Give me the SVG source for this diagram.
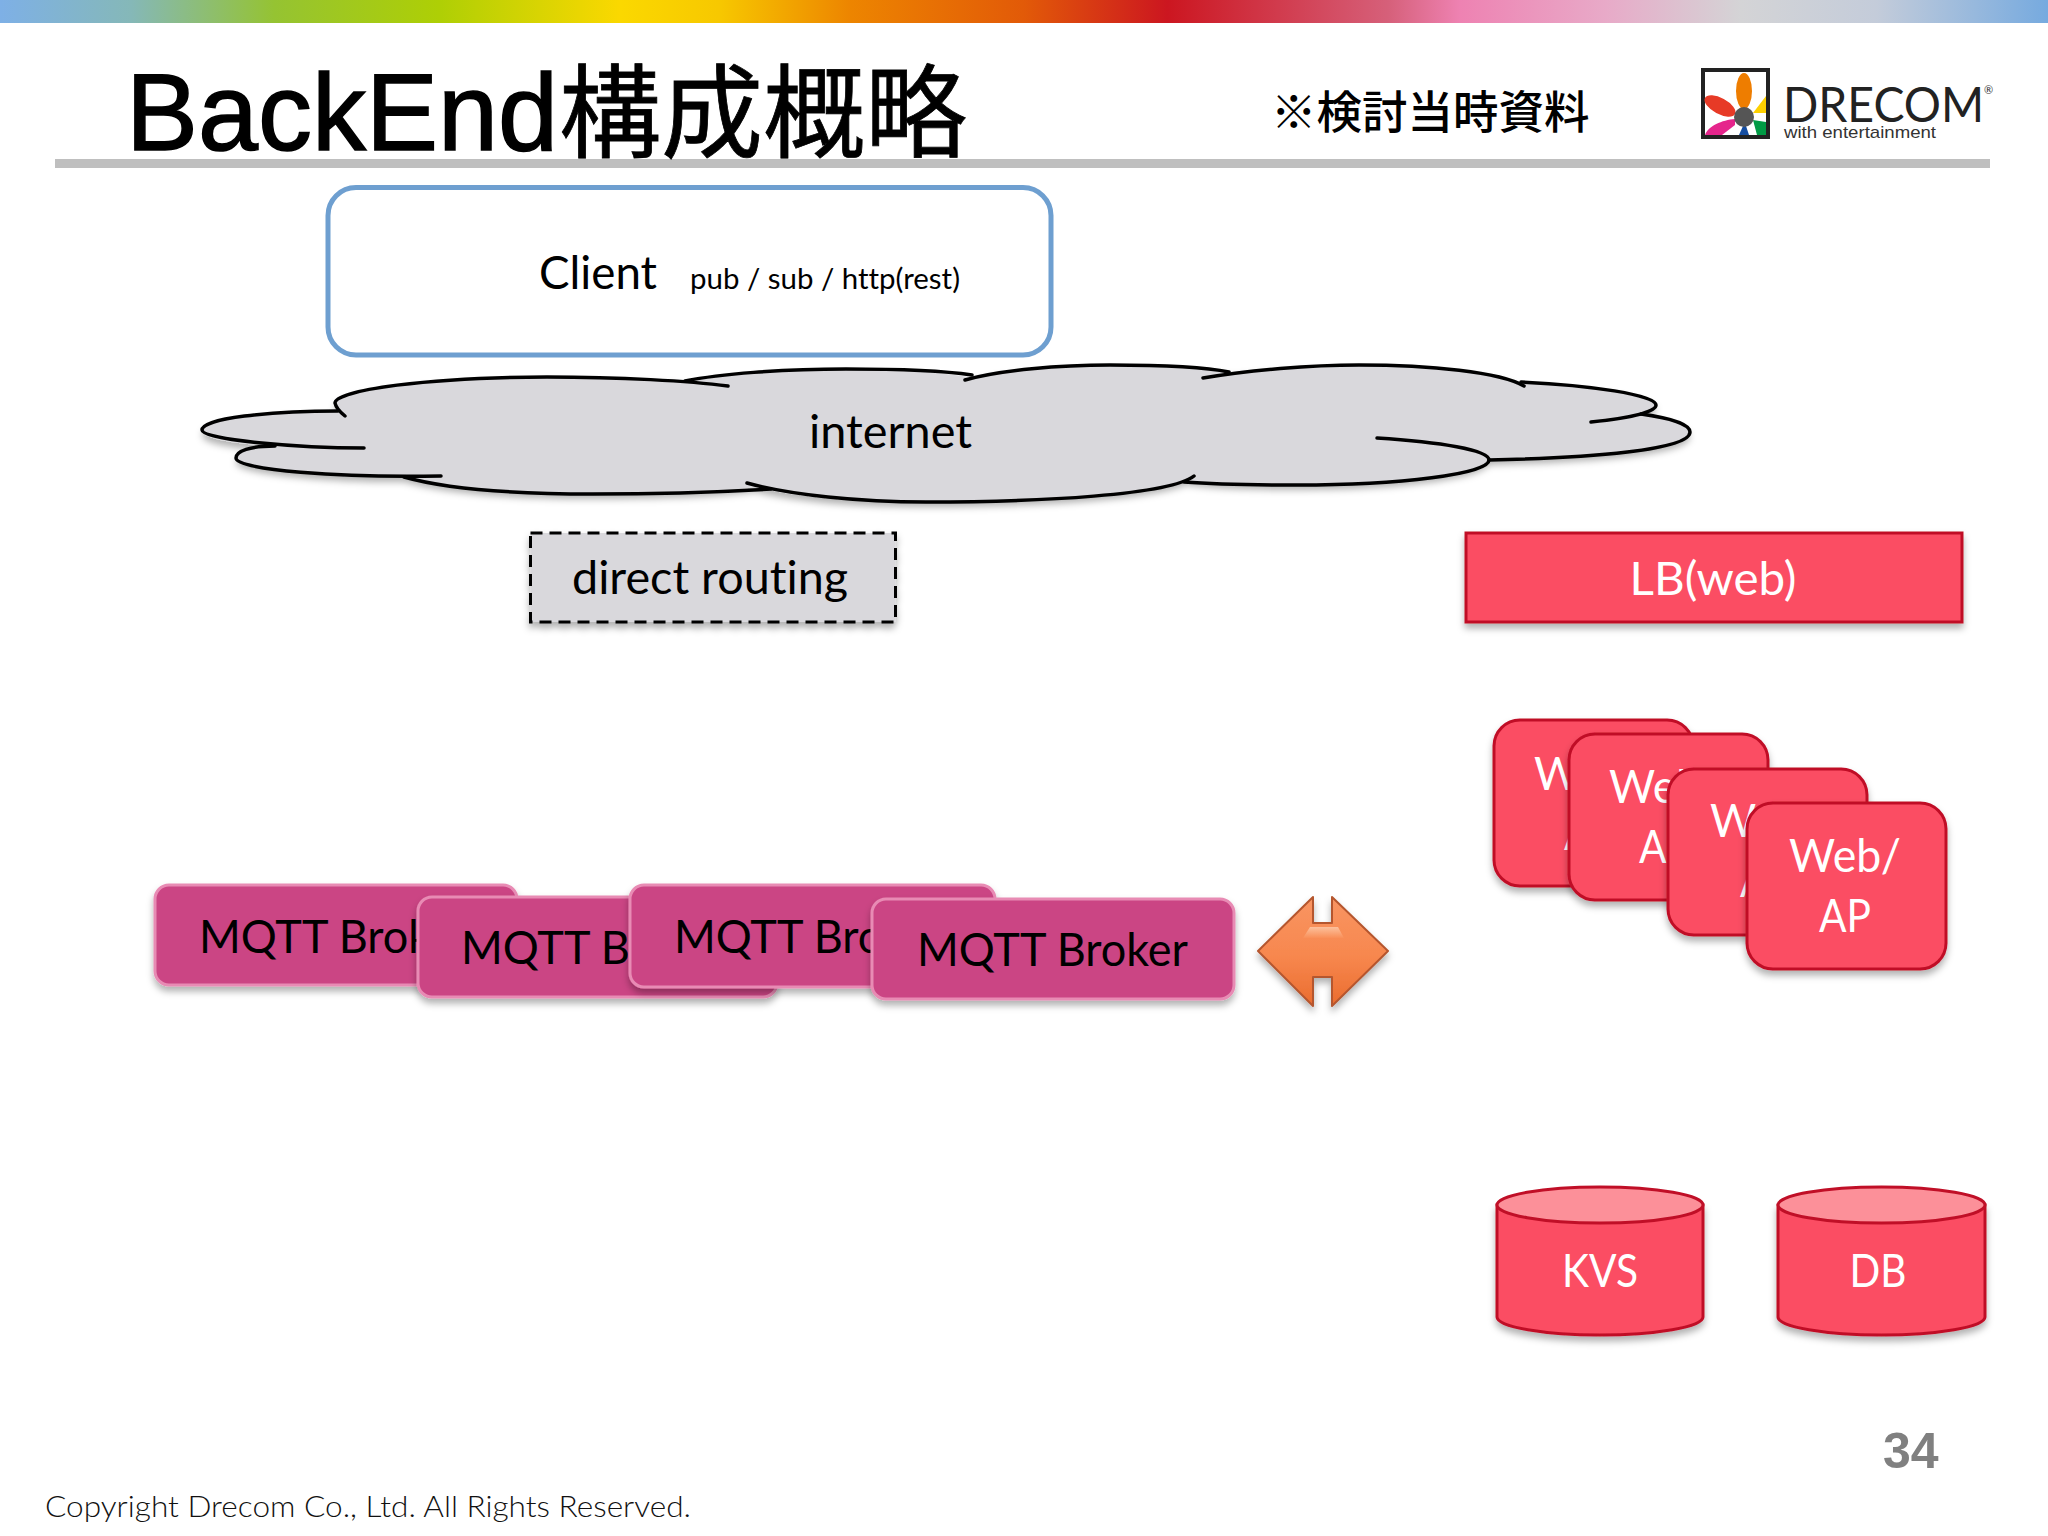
<svg xmlns="http://www.w3.org/2000/svg" width="2048" height="1536" viewBox="0 0 2048 1536">
<defs>
<linearGradient id="bar" gradientUnits="userSpaceOnUse" x1="0" y1="0" x2="2048" y2="0">
<stop offset="0" stop-color="#7eb0e6"/><stop offset="0.064" stop-color="#85b8b8"/><stop offset="0.134" stop-color="#95c332"/><stop offset="0.214" stop-color="#aecf05"/><stop offset="0.303" stop-color="#fbd800"/><stop offset="0.351" stop-color="#f7c800"/><stop offset="0.415" stop-color="#ed8500"/><stop offset="0.5" stop-color="#e25a08"/><stop offset="0.57" stop-color="#cc1620"/><stop offset="0.678" stop-color="#d6607a"/><stop offset="0.713" stop-color="#ee82b2"/><stop offset="0.784" stop-color="#e8aac8"/><stop offset="0.85" stop-color="#d4d4d6"/><stop offset="0.916" stop-color="#c4ccda"/><stop offset="1" stop-color="#76aadf"/>
</linearGradient>
<linearGradient id="arrowBody" x1="0" y1="0" x2="0" y2="1"><stop offset="0" stop-color="#f99562"/><stop offset="0.55" stop-color="#f7874e"/><stop offset="1" stop-color="#ea6c2e"/></linearGradient>
<linearGradient id="arrowHi" x1="0" y1="0" x2="0" y2="1"><stop offset="0" stop-color="#fcc09c"/><stop offset="1" stop-color="#f98f58"/></linearGradient>
<filter id="sh" x="-10%" y="-20%" width="120%" height="150%"><feDropShadow dx="0" dy="5" stdDeviation="3.5" flood-color="#000" flood-opacity="0.3"/></filter>
</defs>
<style>
text{font-family:"Lato","Liberation Sans","Noto Sans CJK JP",sans-serif;font-variant-ligatures:none}
.l{font-size:47px}
.w{fill:#fff;text-anchor:middle}
.red{fill:#fb4d63;stroke:#c00f27;stroke-width:3}
.mq{fill:#cb4584;stroke:#e88bb4;stroke-width:3}
.cl{fill:none;stroke:#000;stroke-width:3.500;stroke-linecap:round}
</style>
<rect width="2048" height="1536" fill="#fff"/>
<rect width="2048" height="23" fill="url(#bar)"/>
<rect x="55" y="159" width="1935" height="9" fill="#bfbfbf"/>
<text id="title" y="150" fill="#000" style="font-family:'Liberation Sans','Noto Sans CJK JP',sans-serif"><tspan x="126" font-size="110" stroke="#000" stroke-width="1.5" textLength="432" lengthAdjust="spacingAndGlyphs">BackEnd</tspan><tspan x="559" font-size="102" stroke="#000" stroke-width="0.8" style="font-family:'Noto Sans CJK JP',sans-serif">構成概略</tspan></text>
<text id="note" x="1271" y="129" font-size="45.500" font-weight="500" style="font-family:'Noto Sans CJK JP',sans-serif">※検討当時資料</text>
<g id="logo">
<rect x="1703" y="70" width="65" height="67" fill="#fff" stroke="#222" stroke-width="4"/>
<ellipse cx="1744" cy="91" rx="8" ry="18" fill="#ee7d00"/>
<ellipse cx="1720" cy="106" rx="8" ry="17" fill="#e73a26" transform="rotate(-62 1720 106)"/>
<path d="M1705 135C1708 126 1722 120 1735 119L1735 125L1722 135Z" fill="#e5258c"/>
<path d="M1766 96V113H1753Z" fill="#fdd000"/>
<path d="M1753 120L1766 122V135H1757Z" fill="#009a44"/>
<path d="M1739 135L1743 126H1746L1749 135Z" fill="#154da0"/>
<ellipse cx="1744" cy="117" rx="10" ry="10" fill="#555"/>
<text x="1783" y="122" font-size="48" fill="#222" textLength="201" lengthAdjust="spacingAndGlyphs">DRECOM</text>
<text x="1784" y="138" font-size="17" fill="#333" textLength="152" lengthAdjust="spacingAndGlyphs" style="font-family:'Liberation Sans',sans-serif">with entertainment</text>
<text x="1984" y="94" font-size="11" fill="#333">®</text>
</g>
<g id="client">
<rect x="328" y="187.500" width="723" height="167.500" rx="28" fill="#fff" stroke="#6e9fd0" stroke-width="5"/>
<text x="539" y="289" font-size="47" textLength="118" lengthAdjust="spacingAndGlyphs">Client</text>
<text x="690" y="289" font-size="29" textLength="270" lengthAdjust="spacingAndGlyphs">pub / sub / http(rest)</text>
</g>
<g id="internet">
<path filter="url(#sh)" fill="#d9d8dc" d="M338 411C270 411 202 418 202 430C202 440 240 444 275 446C250 446 236 451 236 458C236 470 340 478 404 477C450 490 520 494 593 494C660 494 720 492 755 487C800 498 860 502 926 502C1040 502 1150 495 1187 480C1210 484 1250 485 1297 485C1400 485 1480 474 1489 460C1590 458 1690 450 1690 432C1690 424 1670 418 1645 413C1654 410 1656 408 1656 405C1656 395 1590 385 1522 383C1495 372 1430 365 1359 365C1310 365 1260 368 1229 372C1200 367 1160 365 1110 365C1060 365 1000 370 969 377C930 371 890 369 846 369C780 369 725 374 695 381C660 378 610 377 547 377C430 377 335 390 335 403C335 406 336 409 338 411Z"/>
<g>
<path class="cl" d="M338 411C270 411 202 418 202 430C202 440 300 448 364 448"/>
<path class="cl" d="M345 416C340 412 336 408 335 403C335 390 430 377 547 377C620 377 690 381 728 386"/>
<path class="cl" d="M685 381C720 374 780 369 846 369C900 369 945 371 972 375"/>
<path class="cl" d="M965 380C1000 370 1060 365 1110 365C1160 365 1205 367 1229 372"/>
<path class="cl" d="M1203 378C1250 370 1310 365 1359 365C1430 365 1500 372 1524 386"/>
<path class="cl" d="M1521 382C1590 385 1656 395 1656 405C1656 412 1630 418 1591 422"/>
<path class="cl" d="M1641 414C1670 418 1690 424 1690 432C1690 450 1590 458 1489 460"/>
<path class="cl" d="M1377 438C1440 442 1489 450 1489 460C1489 474 1400 485 1297 485C1250 485 1210 484 1184 482"/>
<path class="cl" d="M1194 476C1170 495 1040 502 926 502C860 502 790 495 747 483"/>
<path class="cl" d="M771 489C720 492 660 494 593 494C520 494 450 490 404 477"/>
<path class="cl" d="M441 476C340 478 236 470 236 458C236 451 250 446 275 446"/>
</g>
<text x="809" y="448" font-size="47" textLength="163" lengthAdjust="spacingAndGlyphs">internet</text>
</g>
<g id="direct-routing">
<rect x="530.500" y="533" width="365" height="89" fill="#d9d8dc" stroke="#000" stroke-width="3" stroke-dasharray="12 7" filter="url(#sh)"/>
<text x="572" y="594" font-size="47" textLength="276" lengthAdjust="spacingAndGlyphs">direct routing</text>
</g>
<g id="lb-web">
<rect class="red" x="1466" y="533" width="496" height="89" filter="url(#sh)"/>
<text class="w l" x="1713" y="595" textLength="167" lengthAdjust="spacingAndGlyphs">LB(web)</text>
</g>
<g id="web1"><rect class="red" x="1494" y="720" width="199" height="166" rx="26" filter="url(#sh)"/><text class="w l" x="1590" y="790" textLength="112" lengthAdjust="spacingAndGlyphs">Web/</text><text class="w l" x="1590" y="850" textLength="52" lengthAdjust="spacingAndGlyphs">AP</text></g>
<g id="web2"><rect class="red" x="1569" y="734" width="199" height="166" rx="26" filter="url(#sh)"/><text class="w l" x="1665" y="803" textLength="112" lengthAdjust="spacingAndGlyphs">Web/</text><text class="w l" x="1665" y="863" textLength="52" lengthAdjust="spacingAndGlyphs">AP</text></g>
<g id="web3"><rect class="red" x="1668" y="769" width="199" height="166" rx="26" filter="url(#sh)"/><text class="w l" x="1766" y="837" textLength="112" lengthAdjust="spacingAndGlyphs">Web/</text><text class="w l" x="1766" y="897" textLength="52" lengthAdjust="spacingAndGlyphs">AP</text></g>
<g id="web4"><rect class="red" x="1747" y="803" width="199" height="166" rx="26" filter="url(#sh)"/><text class="w l" x="1845" y="872" textLength="112" lengthAdjust="spacingAndGlyphs">Web/</text><text class="w l" x="1845" y="932" textLength="52" lengthAdjust="spacingAndGlyphs">AP</text></g>
<g id="mqtt1"><rect class="mq" x="155" y="885" width="362" height="100" rx="14" filter="url(#sh)"/><text class="l" x="199" y="953" textLength="271" lengthAdjust="spacingAndGlyphs">MQTT Broker</text></g>
<g id="mqtt2"><rect class="mq" x="418" y="897" width="359" height="100" rx="14" filter="url(#sh)"/><text class="l" x="461" y="964" textLength="271" lengthAdjust="spacingAndGlyphs">MQTT Broker</text></g>
<g id="mqtt3"><rect class="mq" x="630" y="885" width="365" height="102" rx="14" filter="url(#sh)"/><text class="l" x="674" y="953" textLength="271" lengthAdjust="spacingAndGlyphs">MQTT Broker</text></g>
<g id="mqtt4"><rect class="mq" x="872" y="899" width="362" height="100" rx="14" filter="url(#sh)"/><text class="l" x="917" y="966" textLength="271" lengthAdjust="spacingAndGlyphs">MQTT Broker</text></g>
<g id="connectors">
<path filter="url(#sh)" fill="url(#arrowBody)" stroke="#b5562e" stroke-width="2" stroke-linejoin="round" d="M1313 897V923H1332V897L1388 951L1332 1006V977H1313V1006L1258 951Z"/>
<path fill="url(#arrowHi)" d="M1310 927H1338L1344 938H1303Z"/>
</g>
<g id="kvs">
<path class="red" d="M1497 1205V1317C1497 1327 1545 1335 1600 1335C1655 1335 1703 1327 1703 1317V1205Z" filter="url(#sh)"/>
<ellipse cx="1600" cy="1205" rx="103" ry="18" fill="#fc9099" stroke="#c00f27" stroke-width="3"/>
<text class="w l" x="1600" y="1287" textLength="76" lengthAdjust="spacingAndGlyphs">KVS</text>
</g>
<g id="db">
<path class="red" d="M1778 1205V1317C1778 1327 1826 1335 1881.500 1335C1937 1335 1985 1327 1985 1317V1205Z" filter="url(#sh)"/>
<ellipse cx="1881.500" cy="1205" rx="103.500" ry="18" fill="#fc9099" stroke="#c00f27" stroke-width="3"/>
<text class="w l" x="1878" y="1287" textLength="57" lengthAdjust="spacingAndGlyphs">DB</text>
</g>
<text id="page" x="1883" y="1468" font-size="50" font-weight="700" fill="#808080" style="font-family:'Liberation Sans',sans-serif">34</text>
<text id="copyright" x="45" y="1517" font-size="29" font-weight="300" fill="#111" textLength="646" lengthAdjust="spacingAndGlyphs">Copyright Drecom Co., Ltd. All Rights Reserved.</text>
</svg>
